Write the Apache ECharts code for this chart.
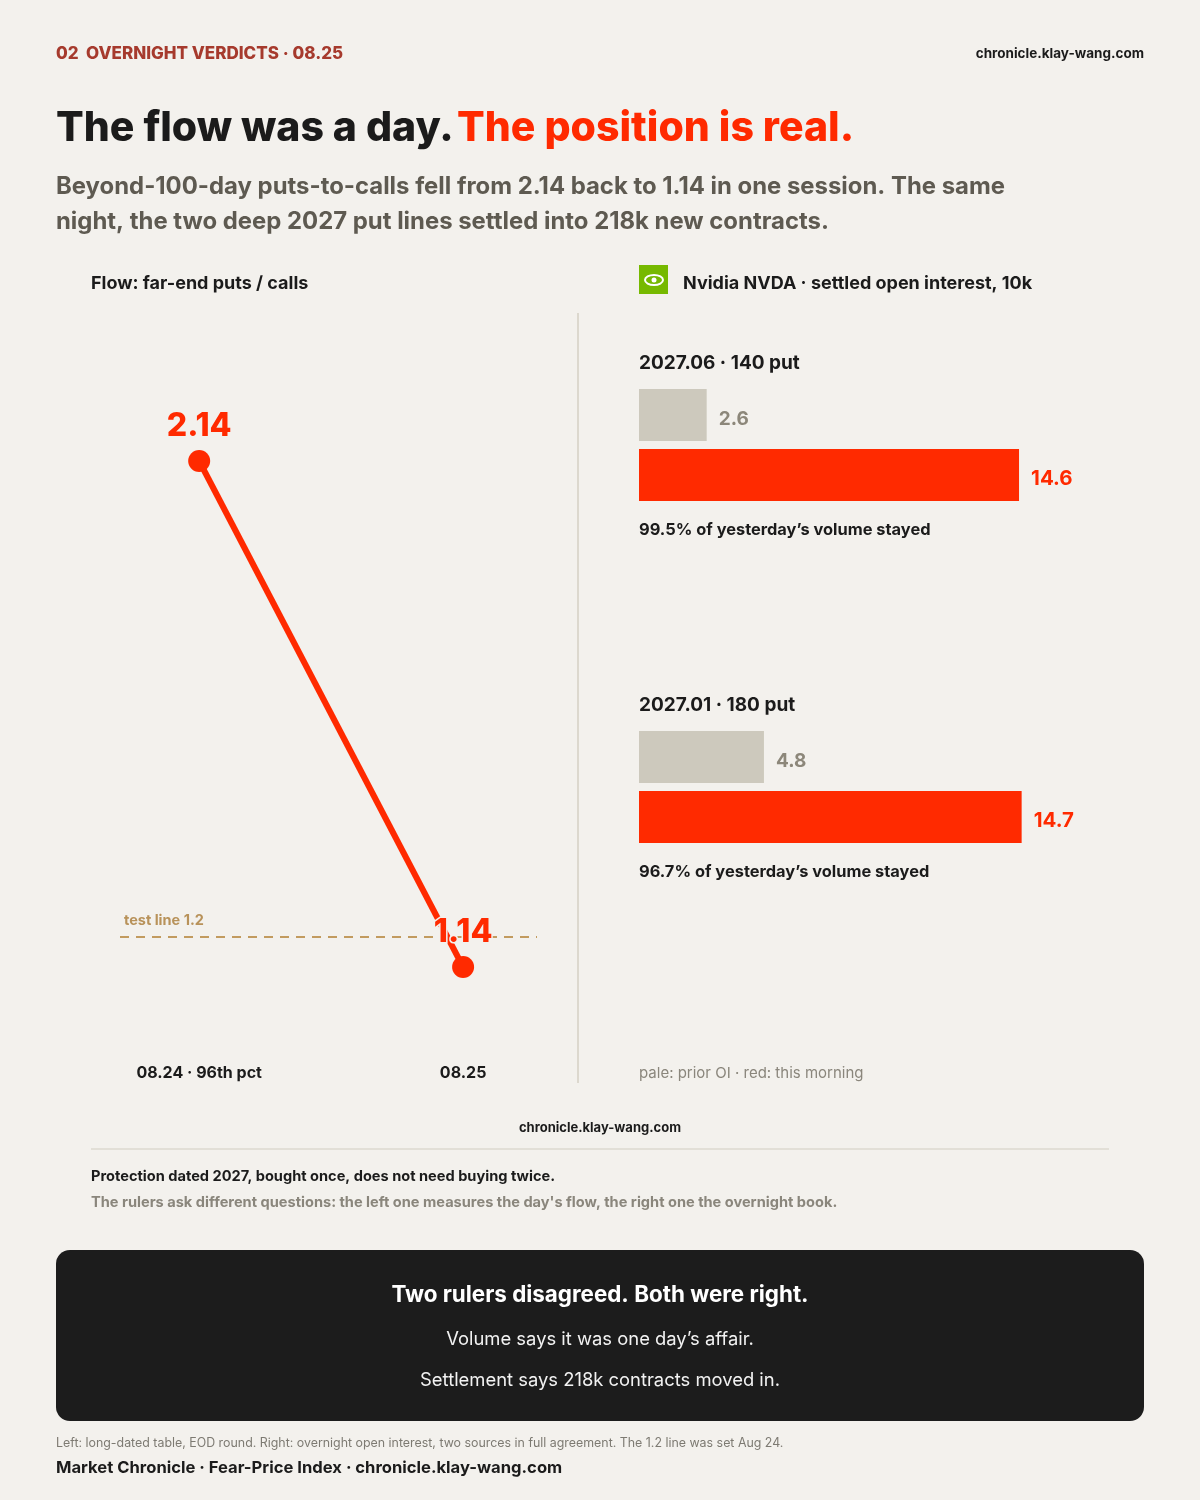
<!DOCTYPE html>
<html>
<head>
<meta charset="utf-8">
<script src="https://cdn.jsdelivr.net/npm/echarts@6/dist/echarts.min.js"></script>
<style>
html,body{margin:0;padding:0;background:#f3f1ed;}
#c{width:1200px;height:1500px;}
</style>
</head>
<body>
<div id="c"></div>
<script>
// ---- data ----
const flowDates = ['08.24 · 96th pct', '08.25'];
const flowValues = [2.14, 1.14];
const testLineValue = 1.2;
const testLineLabel = 'test line 1.2';

const contracts = ['2027.06 · 140 put', '2027.01 · 180 put'];
const priorOI = [2.6, 4.8];
const morningOI = [14.6, 14.7];
const stayedText = ['99.5% of yesterday’s volume stayed', '96.7% of yesterday’s volume stayed'];

const RED = '#ff2a00';
const INK = '#1b1b1b';
const PALE = '#cdc9bd';
const FONT = 'Inter, "Noto Sans", sans-serif';

const chart = echarts.init(document.getElementById('c'), null, {renderer: 'canvas'});

function txt(text, x, y, size, weight, color, align, extra) {
  return {
    type: 'text', silent: true,
    style: Object.assign({
      text: text, x: x, y: y, fill: color,
      fontSize: size, fontWeight: weight, fontFamily: FONT,
      textAlign: align || 'left', textVerticalAlign: 'middle'
    }, extra || {})
  };
}

const barGridTops = [385, 727];
const graphics = [
  txt('02  OVERNIGHT VERDICTS · 08.25', 56, 54, 17, 800, '#a63a2d'),
  txt('chronicle.klay-wang.com', 1144, 54, 13.5, 700, INK, 'right'),
  {
    type: 'text', silent: true,
    style: {
      x: 56, y: 129, textVerticalAlign: 'middle',
      text: '{a|The flow was a day.} {b|The position is real.}',
      rich: {
        a: {fontSize: 41, fontWeight: 800, fontFamily: FONT, fill: INK, color: INK},
        b: {fontSize: 41, fontWeight: 800, fontFamily: FONT, fill: RED, color: RED}
      }
    }
  },
  txt('Beyond-100-day puts-to-calls fell from 2.14 back to 1.14 in one session. The same', 56, 187, 23.9, 700, '#5e5a51'),
  txt('night, the two deep 2027 put lines settled into 218k new contracts.', 56, 222, 23.9, 700, '#5e5a51'),
  txt('Flow: far-end puts / calls', 91, 284, 18, 700, INK),
  {type: 'rect', silent: true, shape: {x: 639, y: 265, width: 29, height: 29}, style: {fill: '#76b900'}},
  {type: 'ellipse', silent: true, shape: {cx: 654, cy: 280, rx: 9, ry: 5}, style: {fill: 'none', stroke: '#ffffff', lineWidth: 2}},
  {type: 'circle', silent: true, shape: {cx: 654, cy: 280, r: 2.5}, style: {fill: '#ffffff'}},
  txt('Nvidia NVDA · settled open interest, 10k', 683, 284, 18, 700, INK),
  {type: 'line', silent: true, shape: {x1: 578, y1: 313, x2: 578, y2: 1083}, style: {stroke: '#dcd8ce', lineWidth: 2}},
  txt('pale: prior OI · red: this morning', 639, 1073, 15, 400, '#8a867c'),
  txt('chronicle.klay-wang.com', 600, 1128, 13, 700, INK, 'center'),
  {type: 'line', silent: true, shape: {x1: 91, y1: 1149, x2: 1109, y2: 1149}, style: {stroke: '#dcd9cf', lineWidth: 1.5}},
  txt('Protection dated 2027, bought once, does not need buying twice.', 91, 1177, 14.6, 700, INK),
  txt('The rulers ask different questions: the left one measures the day\'s flow, the right one the overnight book.', 91, 1203, 14.6, 700, '#8a867c'),
  {type: 'rect', silent: true, shape: {x: 56, y: 1250, width: 1088, height: 171, r: 14}, style: {fill: '#1c1c1c'}},
  txt('Two rulers disagreed. Both were right.', 600, 1295, 22.4, 700, '#ffffff', 'center'),
  txt('Volume says it was one day’s affair.', 600, 1339, 18.4, 400, '#f2f2f2', 'center'),
  txt('Settlement says 218k contracts moved in.', 600, 1380, 18.4, 400, '#f2f2f2', 'center'),
  txt('Left: long-dated table, EOD round. Right: overnight open interest, two sources in full agreement. The 1.2 line was set Aug 24.', 56, 1443, 12.4, 400, '#7d7a72'),
  txt('Market Chronicle · Fear-Price Index · chronicle.klay-wang.com', 56, 1468, 16.6, 700, INK)
];
contracts.forEach(function (name, i) {
  graphics.push(txt(name, 639, barGridTops[i] - 22, 19, 700, INK));
  graphics.push(txt(stayedText[i], 639, barGridTops[i] + 145, 16.4, 700, INK));
});

const barGrids = barGridTops.map(function (t) {
  return {left: 639, width: 520.6, top: t, height: 120};
});

const option = {
  backgroundColor: '#f3f1ed',
  animation: false,
  textStyle: {fontFamily: FONT},
  graphic: graphics,
  grid: [
    {left: 120, width: 417, top: 380.04, height: 657.8}
  ].concat(barGrids),
  xAxis: [
    {
      gridIndex: 0, type: 'value', min: -0.3, max: 1.28,
      axisLine: {show: false}, axisTick: {show: false}, splitLine: {show: false},
      axisLabel: {
        customValues: [0, 1], margin: 27,
        formatter: function (v) { return flowDates[Math.round(v)] || ''; },
        fontSize: 16, fontWeight: 700, color: INK, fontFamily: FONT
      }
    },
    {gridIndex: 1, type: 'value', min: 0, max: 20, show: false},
    {gridIndex: 2, type: 'value', min: 0, max: 20, show: false}
  ],
  yAxis: [
    {gridIndex: 0, type: 'value', min: 1.0, max: 2.3, show: false},
    {gridIndex: 1, type: 'category', data: ['prior', 'morning'], inverse: true, show: false},
    {gridIndex: 2, type: 'category', data: ['prior', 'morning'], inverse: true, show: false}
  ],
  series: [
    {
      type: 'line', xAxisIndex: 0, yAxisIndex: 0,
      data: flowValues.map(function (v, i) { return [i, v]; }),
      symbol: 'circle', symbolSize: 22,
      itemStyle: {color: RED},
      lineStyle: {color: RED, width: 6},
      z: 5,
      label: {
        show: true, position: 'top', distance: 8,
        formatter: function (p) { return p.value[1].toFixed(2); },
        fontSize: 32, fontWeight: 800, color: RED, fontFamily: FONT,
        textBorderColor: '#f3f1ed', textBorderWidth: 3
      },
      markLine: {
        silent: true, symbol: 'none', z: 1,
        lineStyle: {color: '#c29b5f', width: 2, type: [9, 7]},
        label: {
          show: true, position: 'insideStartTop', formatter: testLineLabel,
          color: '#b8925a', fontSize: 14.5, fontWeight: 700, fontFamily: FONT, distance: [4, 8]
        },
        data: [{yAxis: testLineValue}]
      }
    }
  ].concat(contracts.map(function (name, i) {
    return {
      type: 'bar', name: name, xAxisIndex: i + 1, yAxisIndex: i + 1,
      barWidth: 52,
      data: [
        {value: priorOI[i], itemStyle: {color: PALE}, label: {color: '#8c877a', fontSize: 19}},
        {value: morningOI[i], itemStyle: {color: RED}, label: {color: RED, fontSize: 20.5}}
      ],
      label: {
        show: true, position: 'right', distance: 12, offset: [0, 4],
        fontWeight: 700, fontFamily: FONT,
        formatter: function (p) { return p.value.toFixed(1); }
      }
    };
  }))
};
chart.setOption(option);
</script>
</body>
</html>
